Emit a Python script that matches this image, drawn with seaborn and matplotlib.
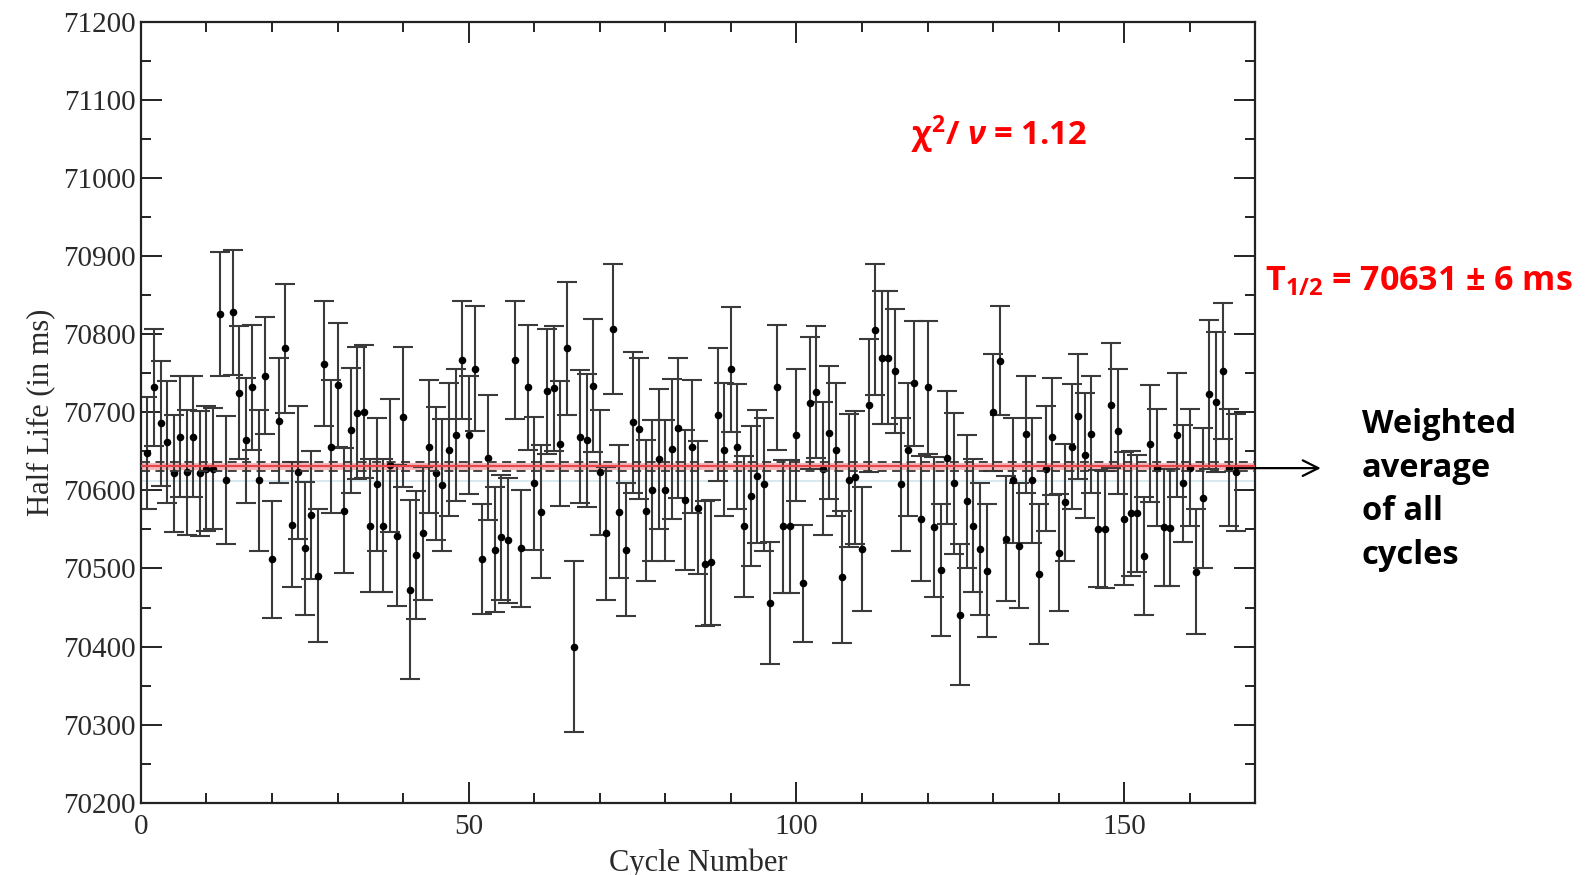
import numpy as np
import pandas as pd
import seaborn as sns
from matplotlib import pyplot as plt
from matplotlib.ticker import MultipleLocator

# half life per cycle (ms)
cycles = list(range(1, 168))
half_life = [
    70648, 70732, 70686, 70662, 70622, 70669, 70623, 70669, 70622, 70628,
    70628, 70826, 70613, 70828, 70725, 70664, 70732, 70613, 70747, 70512,
    70689, 70782, 70556, 70623, 70526, 70568, 70491, 70762, 70656, 70735,
    70574, 70677, 70699, 70701, 70555, 70608, 70555, 70632, 70542, 70694,
    70473, 70517, 70545, 70656, 70622, 70607, 70652, 70671, 70767, 70671,
    70756, 70512, 70642, 70524, 70540, 70536, 70767, 70526, 70732, 70609,
    70573, 70727, 70731, 70660, 70782, 70400, 70669, 70664, 70734, 70623,
    70545, 70807, 70573, 70524, 70687, 70679, 70574, 70600, 70640, 70600,
    70653, 70680, 70588, 70656, 70578, 70506, 70508, 70697, 70652, 70755,
    70656, 70554, 70593, 70618, 70608, 70456, 70732, 70554, 70554, 70671,
    70481, 70712, 70726, 70628, 70674, 70652, 70489, 70613, 70617, 70525,
    70709, 70806, 70770, 70770, 70753, 70608, 70652, 70737, 70564, 70732,
    70553, 70498, 70642, 70609, 70441, 70586, 70555, 70525, 70497, 70700,
    70766, 70538, 70613, 70529, 70672, 70613, 70493, 70628, 70669, 70520,
    70585, 70656, 70695, 70645, 70672, 70551, 70550, 70709, 70676, 70564,
    70571, 70571, 70516, 70660, 70629, 70553, 70552, 70671, 70609, 70629,
    70496, 70590, 70723, 70713, 70753, 70629, 70623,
]
errors = [
    72, 75, 80, 78, 75, 78, 80, 78, 80, 80,
    78, 80, 82, 80, 85, 80, 80, 90, 75, 75,
    80, 83, 80, 85, 85, 82, 85, 80, 85, 80,
    80, 80, 85, 85, 85, 85, 85, 85, 90, 90,
    115, 82, 85, 85, 85, 85, 85, 85, 75, 75,
    80, 70, 80, 80, 80, 80, 75, 75, 80, 85,
    85, 80, 80, 80, 85, 110, 85, 85, 85, 80,
    85, 83, 85, 85, 90, 90, 90, 90, 90, 90,
    90, 90, 90, 85, 85, 80, 80, 85, 85, 80,
    80, 90, 90, 85, 85, 78, 80, 85, 85, 85,
    75, 85, 85, 85, 85, 85, 85, 85, 85, 80,
    85, 84, 85, 85, 80, 85, 85, 80, 80, 85,
    90, 85, 85, 90, 90, 85, 85, 85, 85, 75,
    70, 80, 80, 80, 75, 80, 90, 80, 75, 75,
    75, 80, 80, 80, 75, 75, 75, 80, 80, 85,
    80, 75, 75, 75, 75, 75, 75, 80, 75, 75,
    80, 90, 95, 90, 87, 75, 75,
]

mean_val = 70631
mean_err = 6

df = pd.DataFrame({"cycle": cycles, "half_life": half_life, "err": errors})

sns.set_style("ticks")
plt.rcParams["mathtext.fontset"] = "custom"
plt.rcParams["mathtext.rm"] = "Open Sans:bold"
plt.rcParams["mathtext.it"] = "Open Sans:bold:italic"
plt.rcParams["mathtext.default"] = "rm"

fig = plt.figure(figsize=(15.87, 8.75), dpi=100)
ax = fig.add_axes([0.0888, 0.0826, 0.7022, 0.8923])

ax.errorbar(df["cycle"], df["half_life"], yerr=df["err"], fmt="none",
            ecolor="#3a3a3a", elinewidth=1.5, capsize=7, capthick=1.5, zorder=2)
sns.scatterplot(data=df, x="cycle", y="half_life", ax=ax, color="black",
                s=30, edgecolor="black", linewidth=0, zorder=3)

# weighted average and its uncertainty
ax.axhline(mean_val - 19, color="#cfe4ec", lw=1.2, zorder=1)
ax.axhline(mean_val, color="#f4b8bb", lw=5, zorder=1)
ax.axhline(mean_val, color="#e8454a", lw=1.6, zorder=4)
ax.axhline(mean_val - mean_err, color="#333333", lw=1.3, ls=(0, (5, 3)), zorder=4)
ax.axhline(mean_val + mean_err, color="#333333", lw=1.3, ls=(0, (5, 3)), zorder=4)

ax.set_xlim(0, 170)
ax.set_ylim(70200, 71200)
ax.xaxis.set_major_locator(MultipleLocator(50))
ax.xaxis.set_minor_locator(MultipleLocator(10))
ax.yaxis.set_major_locator(MultipleLocator(100))
ax.yaxis.set_minor_locator(MultipleLocator(50))
ax.tick_params(which="both", direction="in", top=True, right=True, width=1.4,
               color="#222222")
ax.tick_params(which="major", length=15)
ax.tick_params(which="minor", length=7.5)
ax.tick_params(axis="x", which="major", pad=8)
for sp in ax.spines.values():
    sp.set_linewidth(1.6)
    sp.set_color("#222222")

serif = ["Liberation Serif", "DejaVu Serif"]
for lab in ax.get_xticklabels() + ax.get_yticklabels():
    lab.set_family(serif)
    lab.set_fontsize(21)
    lab.set_color("#2a2a2a")
ax.set_xlabel("Cycle Number", family=serif, fontsize=22, color="#2a2a2a", labelpad=6)
ax.set_ylabel("Half Life (in ms)", family=serif, fontsize=22, color="#2a2a2a", labelpad=6)

sans = ["Liberation Sans Narrow", "Open Sans", "DejaVu Sans"]
fig.text(0.574, 0.846, r"χ$^{2}$/ $\mathit{ν}$ = 1.12", color="red", fontsize=23.5,
         fontweight="bold", family=sans, va="center", ha="left")
fig.text(0.797, 0.679, r"T$_{1/2}$ = 70631 ± 6 ms", color="red", fontsize=24.5,
         fontweight="bold", family=sans, va="center", ha="left")
fig.text(0.858, 0.44, "Weighted\naverage\nof all\ncycles", color="black",
         fontsize=23.5, fontweight="bold", family=sans, va="center", ha="left",
         linespacing=1.42)

ax.annotate("", xy=(0.834, 0.465), xytext=(0.776, 0.465),
            xycoords="figure fraction", textcoords="figure fraction",
            arrowprops=dict(arrowstyle="->", color="black", lw=1.6,
                            mutation_scale=28))

fig.savefig("out.png", dpi=100)
